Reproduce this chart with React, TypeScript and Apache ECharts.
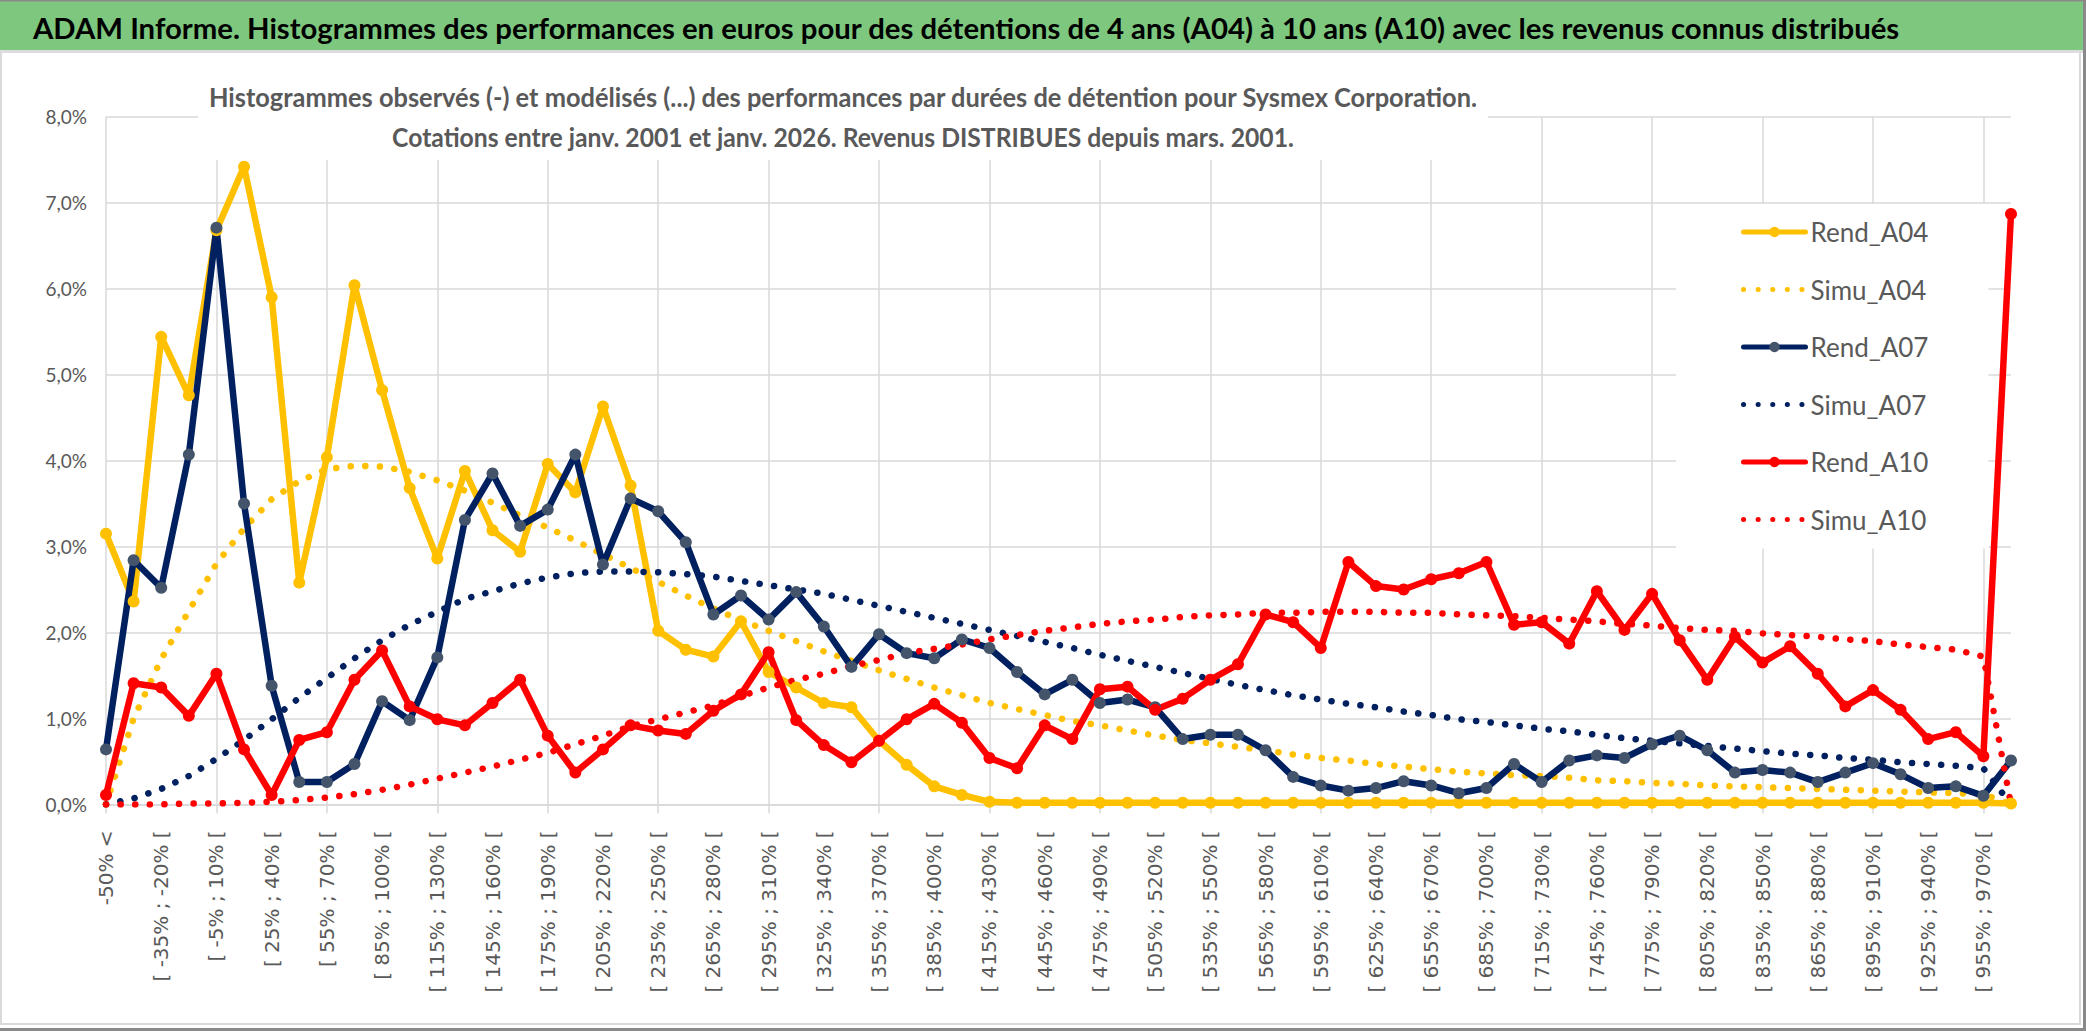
import React, { useEffect, useRef } from "react";
import * as echarts from "echarts";

const CATEGORIES = [
  "-50% <", "[ -50% ; -35% [", "[ -35% ; -20% [", "[ -20% ; -5% [", "[ -5% ; 10% [",
  "[ 10% ; 25% [", "[ 25% ; 40% [", "[ 40% ; 55% [", "[ 55% ; 70% [", "[ 70% ; 85% [",
  "[ 85% ; 100% [", "[ 100% ; 115% [", "[ 115% ; 130% [", "[ 130% ; 145% [", "[ 145% ; 160% [",
  "[ 160% ; 175% [", "[ 175% ; 190% [", "[ 190% ; 205% [", "[ 205% ; 220% [", "[ 220% ; 235% [",
  "[ 235% ; 250% [", "[ 250% ; 265% [", "[ 265% ; 280% [", "[ 280% ; 295% [", "[ 295% ; 310% [",
  "[ 310% ; 325% [", "[ 325% ; 340% [", "[ 340% ; 355% [", "[ 355% ; 370% [", "[ 370% ; 385% [",
  "[ 385% ; 400% [", "[ 400% ; 415% [", "[ 415% ; 430% [", "[ 430% ; 445% [", "[ 445% ; 460% [",
  "[ 460% ; 475% [", "[ 475% ; 490% [", "[ 490% ; 505% [", "[ 505% ; 520% [", "[ 520% ; 535% [",
  "[ 535% ; 550% [", "[ 550% ; 565% [", "[ 565% ; 580% [", "[ 580% ; 595% [", "[ 595% ; 610% [",
  "[ 610% ; 625% [", "[ 625% ; 640% [", "[ 640% ; 655% [", "[ 655% ; 670% [", "[ 670% ; 685% [",
  "[ 685% ; 700% [", "[ 700% ; 715% [", "[ 715% ; 730% [", "[ 730% ; 745% [", "[ 745% ; 760% [",
  "[ 760% ; 775% [", "[ 775% ; 790% [", "[ 790% ; 805% [", "[ 805% ; 820% [", "[ 820% ; 835% [",
  "[ 835% ; 850% [", "[ 850% ; 865% [", "[ 865% ; 880% [", "[ 880% ; 895% [", "[ 895% ; 910% [",
  "[ 910% ; 925% [", "[ 925% ; 940% [", "[ 940% ; 955% [", "[ 955% ; 970% [", "970% >",
];

const REND_A04 = [
  3.15, 2.36, 5.44, 4.76, 6.68, 7.42, 5.9, 2.58, 4.04, 6.04,
  4.82, 3.68, 2.86, 3.88, 3.19, 2.94, 3.96, 3.63, 4.63, 3.71,
  2.02, 1.8, 1.72, 2.13, 1.54, 1.36, 1.18, 1.13, 0.74, 0.46,
  0.21, 0.11, 0.03, 0.02, 0.02, 0.02, 0.02, 0.02, 0.02, 0.02,
  0.02, 0.02, 0.02, 0.02, 0.02, 0.02, 0.02, 0.02, 0.02, 0.02,
  0.02, 0.02, 0.02, 0.02, 0.02, 0.02, 0.02, 0.02, 0.02, 0.02,
  0.02, 0.02, 0.02, 0.02, 0.02, 0.02, 0.02, 0.02, 0.02, 0.01,
];

const SIMU_A04 = [
  0.0, 1.0, 1.69, 2.25, 2.8, 3.21, 3.55, 3.76, 3.9, 3.94,
  3.93, 3.87, 3.77, 3.65, 3.51, 3.36, 3.22, 3.07, 2.91, 2.75,
  2.59, 2.43, 2.28, 2.14, 2.02, 1.9, 1.78, 1.67, 1.56, 1.46,
  1.36, 1.27, 1.18, 1.11, 1.04, 0.97, 0.92, 0.86, 0.8, 0.75,
  0.71, 0.67, 0.63, 0.58, 0.54, 0.51, 0.47, 0.44, 0.41, 0.38,
  0.36, 0.34, 0.33, 0.31, 0.28, 0.27, 0.25, 0.24, 0.22, 0.21,
  0.2, 0.19, 0.18, 0.17, 0.16, 0.15, 0.14, 0.13, 0.12, 0.0,
];

const REND_A07 = [
  0.64, 2.84, 2.52, 4.07, 6.71, 3.5, 1.38, 0.26, 0.26, 0.47,
  1.2, 0.98, 1.71, 3.31, 3.85, 3.24, 3.43, 4.07, 2.79, 3.56,
  3.41, 3.05, 2.21, 2.43, 2.15, 2.47, 2.07, 1.6, 1.98, 1.76,
  1.7, 1.92, 1.82, 1.54, 1.28, 1.45, 1.18, 1.22, 1.13, 0.76,
  0.81, 0.81, 0.63, 0.32, 0.22, 0.16, 0.19, 0.27, 0.22, 0.13,
  0.19, 0.47, 0.26, 0.51, 0.57, 0.54, 0.7, 0.8, 0.63, 0.37,
  0.4, 0.37, 0.26, 0.37, 0.48, 0.35, 0.19, 0.21, 0.1, 0.51,
];

const SIMU_A07 = [
  0.0, 0.07, 0.18, 0.33, 0.53, 0.75, 0.99, 1.24, 1.47, 1.7,
  1.91, 2.09, 2.24, 2.39, 2.48, 2.57, 2.64, 2.69, 2.71, 2.71,
  2.7, 2.68, 2.65, 2.6, 2.55, 2.5, 2.45, 2.38, 2.31, 2.24,
  2.17, 2.1, 2.03, 1.96, 1.89, 1.82, 1.74, 1.67, 1.6, 1.53,
  1.46, 1.39, 1.33, 1.27, 1.22, 1.17, 1.13, 1.08, 1.04, 0.99,
  0.96, 0.92, 0.88, 0.85, 0.81, 0.77, 0.74, 0.71, 0.68, 0.65,
  0.62, 0.59, 0.57, 0.54, 0.52, 0.49, 0.47, 0.45, 0.42, 0.0,
];

const REND_A10 = [
  0.11, 1.41, 1.36, 1.03, 1.52, 0.64, 0.11, 0.75, 0.84, 1.45,
  1.79, 1.14, 0.99, 0.92, 1.18, 1.45, 0.8, 0.37, 0.64, 0.92,
  0.86, 0.82, 1.09, 1.28, 1.77, 0.98, 0.69, 0.49, 0.74, 0.99,
  1.17, 0.95, 0.54, 0.42, 0.92, 0.76, 1.34, 1.37, 1.1, 1.23,
  1.45, 1.63, 2.21, 2.12, 1.82, 2.82, 2.54, 2.5, 2.62, 2.69,
  2.82, 2.09, 2.12, 1.87, 2.48, 2.03, 2.45, 1.91, 1.45, 1.95,
  1.65, 1.84, 1.52, 1.14, 1.33, 1.1, 0.76, 0.84, 0.56, 6.87,
];

const SIMU_A10 = [
  0.0, 0.0, 0.0, 0.01, 0.01, 0.02, 0.03, 0.05, 0.08, 0.12,
  0.17, 0.23, 0.3, 0.37, 0.44, 0.52, 0.6, 0.7, 0.8, 0.91,
  0.99, 1.07, 1.15, 1.26, 1.36, 1.45, 1.52, 1.61, 1.68, 1.76,
  1.81, 1.86, 1.92, 1.97, 2.02, 2.06, 2.1, 2.13, 2.15, 2.18,
  2.2, 2.21, 2.23, 2.23, 2.24, 2.24, 2.24, 2.23, 2.23, 2.21,
  2.2, 2.19, 2.17, 2.15, 2.13, 2.1, 2.08, 2.05, 2.03, 2.02,
  1.99, 1.97, 1.95, 1.92, 1.9, 1.86, 1.83, 1.8, 1.72, 0.0,
];

const Y_MIN = 0;
const Y_MAX = 8;
const Y_STEP = 1;

const MAIN_TITLE =
  "ADAM Informe. Histogrammes des performances en euros pour des détentions de 4 ans (A04) à 10 ans (A10) avec les revenus connus distribués";
const CHART_TITLE_1 =
  "Histogrammes observés (-) et modélisés (...) des performances par durées de détention pour Sysmex Corporation.";
const CHART_TITLE_2 =
  "Cotations entre janv. 2001 et janv. 2026. Revenus DISTRIBUES depuis mars. 2001.";
const LEGEND_NAMES = ["Rend_A04", "Simu_A04", "Rend_A07", "Simu_A07", "Rend_A10", "Simu_A10"];

const FONT = "Lato, 'Open Sans', 'Liberation Sans', sans-serif";
const GRID_COLOR = "#d9d9d9";
const TEXT_GRAY = "#595959";
const YELLOW = "#FFC000";
const NAVY = "#002060";
const NAVY_MARK = "#44546A";
const RED = "#FF0000";
const DOTS = [0.1, 14.5];

function measure(text: string, font: string): number {
  const c = document.createElement("canvas");
  const ctx = c.getContext("2d");
  if (!ctx) return 0;
  ctx.font = font;
  return ctx.measureText(text).width;
}

function fitScale(text: string, weight: string, size: number, target: number): number {
  const w = measure(text, `${weight} ${size}px Lato, 'Open Sans', sans-serif`);
  return w > 0 ? target / w : 1;
}

export default function App() {
  const ref = useRef<HTMLDivElement>(null);

  useEffect(() => {
    if (!ref.current) return;
    const chart = echarts.init(ref.current, undefined, { renderer: "svg" });

    const solid = (name: string, data: number[], line: string, mark: string) => ({
      name,
      type: "line",
      data,
      symbol: "circle",
      symbolSize: 12,
      showSymbol: true,
      lineStyle: { color: line, width: 6.5, cap: "round", join: "round" },
      itemStyle: { color: mark, borderWidth: 0 },
      emphasis: { disabled: true },
    });
    const dotted = (name: string, data: number[], color: string) => ({
      name,
      type: "line",
      data,
      symbol: "none",
      showSymbol: false,
      lineStyle: { color, width: 6.5, type: DOTS, cap: "round" },
      itemStyle: { color },
      emphasis: { disabled: true },
    });

    const titleScale = fitScale(MAIN_TITLE, "bold", 28, 1868);
    const sub1Scale = fitScale(CHART_TITLE_1, "bold", 26.5, 1270);
    const sub2Scale = fitScale(CHART_TITLE_2, "bold", 26.5, 902);

    const option: any = {
      animation: false,
      backgroundColor: "#ffffff",
      textStyle: { fontFamily: FONT },
      legend: {
        orient: "vertical",
        left: 1676,
        top: 204,
        padding: [13, 60, 14, 65],
        backgroundColor: "#ffffff",
        itemWidth: 62,
        itemHeight: 13,
        itemGap: 27.5,
        selectedMode: false,
        textStyle: { fontFamily: FONT, fontSize: 26, lineHeight: 30, color: TEXT_GRAY },
        lineStyle: { width: 5 },
        data: LEGEND_NAMES.map((n) =>
          n.startsWith("Simu")
            ? { name: n, itemStyle: { opacity: 0, color: "rgba(0,0,0,0)", borderWidth: 0 } }
            : { name: n }
        ),
      },
      grid: { left: 106, right: 75, top: 116.8, bottom: 226.6, containLabel: false },
      xAxis: {
        type: "category",
        data: CATEGORIES,
        boundaryGap: false,
        axisLine: { show: true, lineStyle: { color: GRID_COLOR, width: 1.5 } },
        axisTick: { show: true, interval: 3, length: 9, lineStyle: { color: GRID_COLOR, width: 1.5 } },
        axisLabel: {
          interval: 1,
          rotate: 90,
          margin: 26,
          fontFamily: "'DejaVu Sans', sans-serif",
          fontSize: 20,
          color: TEXT_GRAY,
        },
        splitLine: { show: true, interval: 3, lineStyle: { color: GRID_COLOR, width: 1.5 } },
      },
      yAxis: {
        type: "value",
        min: Y_MIN,
        max: Y_MAX,
        interval: Y_STEP,
        axisLine: { show: false },
        axisTick: { show: false },
        axisLabel: {
          margin: 19,
          fontFamily: FONT,
          fontSize: 19,
          color: TEXT_GRAY,
          formatter: (v: number) => v.toFixed(1).replace(".", ",") + "%",
        },
        splitLine: { show: true, lineStyle: { color: GRID_COLOR, width: 1.5 } },
      },
      series: [
        solid("Rend_A04", REND_A04, YELLOW, YELLOW),
        dotted("Simu_A04", SIMU_A04, YELLOW),
        solid("Rend_A07", REND_A07, NAVY, NAVY_MARK),
        dotted("Simu_A07", SIMU_A07, NAVY),
        solid("Rend_A10", REND_A10, RED, RED),
        dotted("Simu_A10", SIMU_A10, RED),
      ],
      graphic: [
        { type: "rect", z: 100, shape: { x: 1, y: 52, width: 2079, height: 972 }, style: { fill: "none", stroke: GRID_COLOR, lineWidth: 2 } },
        { type: "rect", z: 100, shape: { x: 198, y: 76, width: 1290, height: 84 }, style: { fill: "#ffffff" } },
        {
          type: "text", z: 101, x: 843, y: 96.5, scaleX: sub1Scale,
          style: { text: CHART_TITLE_1, fontFamily: FONT, fontWeight: "bold", fontSize: 26.5, fill: TEXT_GRAY, align: "center", verticalAlign: "middle" },
        },
        {
          type: "text", z: 101, x: 843, y: 136.5, scaleX: sub2Scale,
          style: { text: CHART_TITLE_2, fontFamily: FONT, fontWeight: "bold", fontSize: 26.5, fill: TEXT_GRAY, align: "center", verticalAlign: "middle" },
        },
        { type: "rect", z: 100, shape: { x: 0, y: 0, width: 2086, height: 50 }, style: { fill: "#7dc77f" } },
        { type: "rect", z: 101, shape: { x: 0, y: 0, width: 2086, height: 1.5 }, style: { fill: "#8a8a8a" } },
        { type: "rect", z: 101, shape: { x: 0, y: 50, width: 2086, height: 3 }, style: { fill: "#dcdcdc" } },
        { type: "rect", z: 101, shape: { x: 2083, y: 0, width: 3, height: 1031 }, style: { fill: "#8a8a8a" } },
        { type: "rect", z: 101, shape: { x: 0, y: 1028, width: 2086, height: 3 }, style: { fill: "#8a8a8a" } },
        {
          type: "text", z: 102, x: 33, y: 28, scaleX: titleScale,
          style: { text: MAIN_TITLE, fontFamily: FONT, fontWeight: "bold", fontSize: 28, fill: "#000000", verticalAlign: "middle", align: "left" },
        },
      ],
    };

    chart.setOption(option);
    return () => chart.dispose();
  }, []);

  return (
    <div
      ref={ref}
      style={{ position: "fixed", left: 0, top: 0, width: 2086, height: 1031, background: "#fff" }}
    />
  );
}
